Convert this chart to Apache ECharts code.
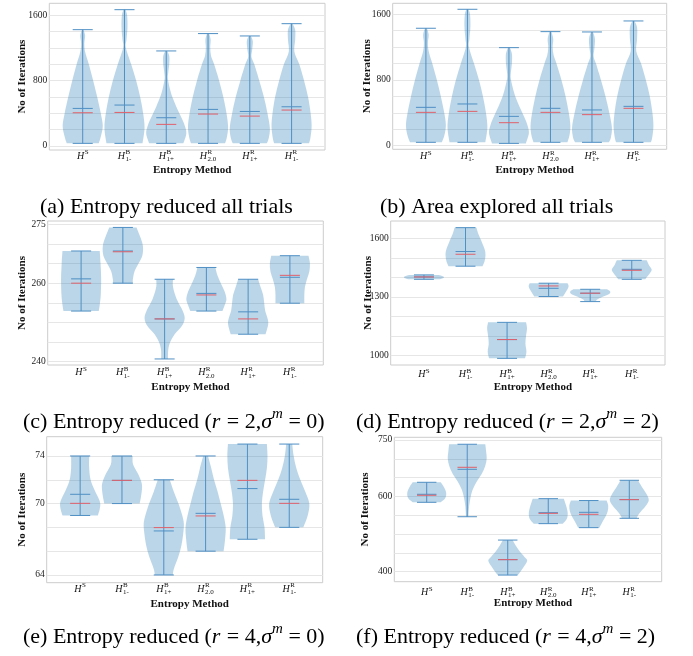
<!DOCTYPE html>
<html><head><meta charset="utf-8">
<script src="https://cdn.jsdelivr.net/npm/echarts@6/dist/echarts.min.js"></script>
<style>html,body{margin:0;padding:0;background:#fff}#c{width:693px;height:656px}</style>
</head><body><div id="c"></div>
<script>
// ---------------- DATA ----------------
// category labels: [base, superscript, subscript]
const categories = [['H','S',''],['H','B','1-'],['H','B','1+'],['H','R','2.0'],['H','R','1+'],['H','R','1-']];

// violin profiles: [value, relative half-width] from top (max) to bottom (min)
const a_profiles = [
 [[1421,0.04],[1350,0.12],[1250,0.08],[1150,0.12],[1000,0.3],[800,0.52],[600,0.72],[400,0.9],[250,1.0],[130,0.92],[32,0.8]],
 [[1665,0.05],[1600,0.13],[1450,0.15],[1300,0.1],[1200,0.07],[1000,0.33],[800,0.58],[600,0.78],[400,0.93],[220,1.0],[32,0.9]],
 [[1161,0.05],[1100,0.15],[1000,0.15],[900,0.1],[820,0.08],[700,0.18],[600,0.3],[480,0.5],[360,0.73],[250,0.92],[150,1.0],[32,0.85]],
 [[1373,0.05],[1300,0.13],[1200,0.11],[1100,0.15],[1000,0.3],[800,0.55],[600,0.76],[400,0.92],[240,1.0],[120,0.95],[32,0.85]],
 [[1344,0.05],[1280,0.15],[1180,0.12],[1090,0.08],[1000,0.22],[800,0.47],[600,0.7],[400,0.88],[220,1.0],[100,0.95],[32,0.85]],
 [[1494,0.05],[1420,0.18],[1300,0.18],[1150,0.14],[1000,0.38],[800,0.62],[600,0.82],[400,0.95],[240,1.0],[100,0.94],[32,0.87]]
];
const a_means = [459, 500, 345, 447, 422, 479];
const a_medians = [406, 410, 264, 390, 365, 439];
const a_range = [-49, 1743];
const a_gridTicks = [0,200,400,600,800,1000,1200,1400,1600];
const a_tickLabels = [0,800,1600];

const b_profiles = [
 [[1430,0.05],[1350,0.14],[1250,0.1],[1150,0.14],[1000,0.32],[800,0.55],[600,0.75],[400,0.92],[250,1.0],[130,0.93],[41,0.8]],
 [[1661,0.05],[1600,0.13],[1450,0.15],[1300,0.1],[1200,0.08],[1000,0.33],[800,0.58],[600,0.78],[400,0.93],[220,1.0],[41,0.9]],
 [[1194,0.05],[1120,0.15],[1000,0.15],[900,0.1],[820,0.09],[700,0.2],[600,0.32],[480,0.52],[360,0.75],[250,0.93],[150,1.0],[28,0.85]],
 [[1389,0.05],[1300,0.14],[1200,0.11],[1100,0.16],[1000,0.3],[800,0.55],[600,0.76],[400,0.92],[240,1.0],[120,0.95],[41,0.85]],
 [[1385,0.05],[1300,0.15],[1180,0.12],[1090,0.08],[1000,0.2],[800,0.45],[600,0.68],[400,0.87],[220,1.0],[100,0.95],[41,0.85]],
 [[1519,0.05],[1440,0.18],[1300,0.18],[1150,0.14],[1000,0.38],[800,0.62],[600,0.82],[400,0.95],[240,1.0],[100,0.94],[41,0.87]]
];
const b_means = [467, 508, 357, 455, 435, 479];
const b_medians = [406, 418, 280, 406, 378, 455];
const b_range = [-44, 1734];
const b_gridTicks = [0,200,400,600,800,1000,1200,1400,1600];
const b_tickLabels = [0,800,1600];

const c_profiles = [
 [[268.2,0.93],[265,0.97],[261,1.0],[257,0.98],[254.5,0.93],[252.9,0.88]],
 [[274.2,0.68],[272,0.85],[269.5,1.0],[267,0.97],[265,0.78],[263,0.58],[261,0.5],[260,0.5]],
 [[261,0.42],[259,0.42],[256,0.6],[253,0.9],[251,1.0],[249,0.85],[247,0.5],[245,0.28],[243,0.18],[240.7,0.17]],
 [[264,0.45],[262,0.55],[260,0.72],[258,0.9],[256,1.0],[254.5,0.92],[252.9,0.8]],
 [[261,0.5],[259,0.62],[257,0.75],[255,0.8],[253,0.85],[251,0.97],[249.5,1.0],[247,0.87]],
 [[267,0.93],[265,1.0],[263,0.97],[261,0.85],[259,0.75],[257,0.72],[254.9,0.72]]
];
const c_means = [261.1, 268.2, 250.9, 257.4, 252.7, 261.5];
const c_medians = [260.0, 268.0, 250.9, 257.0, 250.9, 262.0];
const c_range = [239.16, 275.84];
const c_gridTicks = [240,245,250,255,260,265,270,275];
const c_tickLabels = [240,260,275];

const d_profiles = [
 [[1412.5,0.75],[1406,0.95],[1401,1.0],[1396,0.95],[1390,0.75]],
 [[1654,0.55],[1620,0.65],[1580,0.82],[1540,0.97],[1510,1.0],[1480,0.95],[1457,0.85]],
 [[1170,0.95],[1140,1.0],[1100,0.95],[1060,0.92],[1020,0.97],[986,0.9]],
 [[1370,0.95],[1355,1.0],[1335,0.92],[1315,0.8],[1302,0.72]],
 [[1339,0.85],[1328,1.0],[1315,0.95],[1300,0.6],[1287,0.35],[1276,0.28]],
 [[1487,0.75],[1465,0.85],[1440,1.0],[1420,0.9],[1400,0.75],[1390,0.68]]
];
const d_means = [1402, 1532, 1082, 1344, 1319, 1441];
const d_medians = [1402, 1518, 1082, 1356, 1319, 1436];
const d_range = [952, 1688];
const d_gridTicks = [1000,1100,1200,1300,1400,1500,1600];
const d_tickLabels = [1000,1300,1600];

const e_profiles = [
 [[74,0.45],[73,0.45],[72,0.52],[71.2,0.7],[70.5,0.9],[70,1.0],[69.5,0.97],[69,0.88]],
 [[74,0.53],[73.3,0.55],[72.5,0.8],[71.8,0.97],[71.3,1.0],[70.6,0.95],[70,0.88]],
 [[72,0.3],[71,0.5],[70,0.73],[69,0.92],[68.3,1.0],[67.5,0.97],[66.5,0.88],[65.5,0.72],[64.5,0.5],[64,0.45]],
 [[74,0.12],[73,0.28],[72,0.42],[71,0.6],[70,0.75],[69,0.9],[68,1.0],[67,0.97],[66,0.9]],
 [[75,0.97],[74,1.0],[73,0.97],[72,0.88],[71,0.78],[70,0.72],[69,0.75],[68,0.85],[67,0.88]],
 [[75,0.15],[74,0.22],[73,0.35],[72,0.55],[71,0.8],[70,1.0],[69,0.92],[68,0.7]]
];
const e_means = [70.78, 71.95, 67.7, 69.18, 71.26, 70.36];
const e_medians = [70.02, 71.95, 67.98, 68.96, 71.95, 70.02];
const e_range = [63.35, 75.62];
const e_gridTicks = [64,66,68,70,72,74];
const e_tickLabels = [64,70,74];

const f_profiles = [
 [[637.5,0.72],[625,0.88],[610,1.0],[595,0.95],[584.3,0.72]],
 [[738.5,0.93],[720,0.97],[700,1.0],[680,0.92],[660,0.75],[640,0.5],[620,0.3],[600,0.18],[575,0.1],[546,0.06]],
 [[484,0.25],[470,0.4],[455,0.6],[440,0.85],[430,1.0],[415,0.85],[400,0.65],[391,0.52]],
 [[594,0.8],[575,0.92],[556,1.0],[540,0.95],[527.6,0.75]],
 [[589,0.92],[575,1.0],[560,0.97],[545,0.85],[530,0.68],[517,0.55]],
 [[642.8,0.45],[625,0.65],[605,0.9],[590,1.0],[575,0.85],[560,0.6],[550,0.45],[541.8,0.38]]
];
const f_means = [605.6, 672, 432, 556.8, 557.7, 591.4];
const f_medians = [603, 677.3, 432, 555, 552.4, 591.4];
const f_range = [373.4, 757];
const f_gridTicks = [400,450,500,550,600,650,700,750];
const f_tickLabels = [400,600,750];

const yTitle = 'No of Iterations';
const xTitle = 'Entropy Method';
// caption runs: [text, style]  n=normal, i=italic, s=italic superscript
const captionA = [['(a) Entropy reduced all trials','n']];
const captionB = [['(b) Area explored all trials','n']];
const captionC = [['(c) Entropy reduced (','n'],['r','i'],[' = 2,','n'],['\u03c3','i'],['m','s'],[' = 0)','n']];
const captionD = [['(d) Entropy reduced (','n'],['r','i'],[' = 2,','n'],['\u03c3','i'],['m','s'],[' = 2)','n']];
const captionE = [['(e) Entropy reduced (','n'],['r','i'],[' = 4,','n'],['\u03c3','i'],['m','s'],[' = 0)','n']];
const captionF = [['(f) Entropy reduced (','n'],['r','i'],[' = 4,','n'],['\u03c3','i'],['m','s'],[' = 2)','n']];

// ---------------- LAYOUT ----------------
const panels = [
 {prof:a_profiles, means:a_means, medians:a_medians, range:a_range, ticks:a_gridTicks, labels:a_tickLabels, cap:captionA,
  box:[49.3,3.3,275.7,146.7], yNameX:22, labDy:6, xNameDy:20, capX:40, capY:207},
 {prof:b_profiles, means:b_means, medians:b_medians, range:b_range, ticks:b_gridTicks, labels:b_tickLabels, cap:captionB,
  box:[392.7,3.3,274,146], yNameX:366.7, labDy:7, xNameDy:21, capX:380, capY:207},
 {prof:c_profiles, means:c_means, medians:c_medians, range:c_range, ticks:c_gridTicks, labels:c_tickLabels, cap:captionC,
  box:[47.7,221,275.6,144], yNameX:21.7, labDy:7.7, xNameDy:22.5, capX:23, capY:422},
 {prof:d_profiles, means:d_means, medians:d_medians, range:d_range, ticks:d_gridTicks, labels:d_tickLabels, cap:captionD,
  box:[390.7,221,274.3,144], yNameX:368, labDy:9.3, xNameDy:21.7, capX:356, capY:422},
 {prof:e_profiles, means:e_means, medians:e_medians, range:e_range, ticks:e_gridTicks, labels:e_tickLabels, cap:captionE,
  box:[46.7,436.7,276,146], yNameX:21.7, labDy:6.3, xNameDy:21.3, capX:23, capY:637},
 {prof:f_profiles, means:f_means, medians:f_medians, range:f_range, ticks:f_gridTicks, labels:f_tickLabels, cap:captionF,
  box:[394.3,437.3,267.4,144.4], yNameX:365, labDy:10.6, xNameDy:21.6, capX:356, capY:637}
];

const HALF = 0.48, CAP = 0.24;
const FILL = 'rgba(31,119,180,0.3)';
const BLUE = '#4f8fc4';
const RED = '#e0606a';
const SERIF = '"Liberation Serif", "Times New Roman", serif';

function cr(pts) {
  let d = '';
  const n = pts.length;
  for (let k = 0; k < n - 1; k++) {
    const p0 = pts[Math.max(k - 1, 0)], p1 = pts[k], p2 = pts[k + 1], p3 = pts[Math.min(k + 2, n - 1)];
    const c1 = [p1[0] + (p2[0] - p0[0]) / 6, p1[1] + (p2[1] - p0[1]) / 6];
    const c2 = [p2[0] - (p3[0] - p1[0]) / 6, p2[1] - (p3[1] - p1[1]) / 6];
    d += ' C' + c1[0] + ',' + c1[1] + ' ' + c2[0] + ',' + c2[1] + ' ' + p2[0] + ',' + p2[1];
  }
  return d;
}

function makeSeries(p, P) {
  return {
    type: 'custom', xAxisIndex: p, yAxisIndex: p, silent: true, clip: false,
    data: P.prof.map((pr, i) => [i + 1, pr[pr.length - 1][0], pr[0][0]]),
    encode: {x: 0, y: [1, 2]},
    renderItem: function (params, api) {
      const i = params.dataIndex;
      const pos = api.value(0);
      const pr = P.prof[i];
      const R = pr.map(q => api.coord([pos + q[1] * HALF, q[0]]));
      const L = pr.map(q => api.coord([pos - q[1] * HALF, q[0]])).reverse();
      const d = 'M' + R[0][0] + ',' + R[0][1] + cr(R) + ' L' + L[0][0] + ',' + L[0][1] + cr(L) + ' Z';
      const top = api.coord([pos, pr[0][0]]);
      const bot = api.coord([pos, pr[pr.length - 1][0]]);
      const hx = api.coord([pos + CAP, pr[0][0]])[0] - top[0];
      const hl = (v, color) => {
        const c = api.coord([pos, v]);
        return {type: 'line', shape: {x1: c[0] - hx, y1: c[1], x2: c[0] + hx, y2: c[1]}, style: {stroke: color, lineWidth: 1}};
      };
      return {type: 'group', children: [
        {type: 'path', shape: {pathData: d}, style: {fill: FILL, stroke: null}},
        {type: 'line', shape: {x1: top[0], y1: top[1], x2: bot[0], y2: bot[1]}, style: {stroke: BLUE, lineWidth: 1}},
        hl(pr[0][0], BLUE), hl(pr[pr.length - 1][0], BLUE),
        hl(P.means[i], BLUE), hl(P.medians[i], RED)
      ]};
    }
  };
}

const chart = echarts.init(document.getElementById('c'), null, {renderer: 'canvas'});
const option = {
  animation: false,
  backgroundColor: '#ffffff',
  grid: panels.map(P => ({left: P.box[0], top: P.box[1], width: P.box[2], height: P.box[3],
    show: true, borderColor: '#cccccc', borderWidth: 1, backgroundColor: 'transparent', containLabel: false})),
  xAxis: panels.map((P, p) => ({type: 'value', gridIndex: p, min: 0.2, max: 6.8,
    axisLine: {show: false}, axisTick: {show: false}, axisLabel: {show: false}, splitLine: {show: false}})),
  yAxis: panels.map((P, p) => ({type: 'value', gridIndex: p, min: P.range[0], max: P.range[1],
    axisLine: {show: false},
    axisTick: {show: false, customValues: P.ticks},
    splitLine: {show: true, lineStyle: {color: '#e6e6e6', width: 1}},
    axisLabel: {customValues: P.labels, fontSize: 9.5, fontFamily: SERIF, color: '#222', margin: 2,
      formatter: v => String(v)}})),
  series: panels.map((P, p) => makeSeries(p, P))
};
chart.setOption(option);

// text helpers
const mctx = document.createElement('canvas').getContext('2d');
function tw(t, font) { mctx.font = font; return mctx.measureText(t).width; }
function txt(t, x, y, font, extra) {
  return Object.assign({type: 'text', silent: true, x: x, y: y,
    style: {text: t, font: font, fill: '#111', textAlign: 'left', align: 'left', textVerticalAlign: 'middle', verticalAlign: 'middle'}}, extra || {});
}

const graphics = [];
const fH = 'italic 10px ' + SERIF, fS = '7px ' + SERIF;
const fBold = 'bold 11px ' + SERIF;
const capFonts = {n: '22px ' + SERIF, i: 'italic 22px ' + SERIF, s: 'italic 15px ' + SERIF};
panels.forEach((P, p) => {
  const bottom = P.box[1] + P.box[3];
  // category labels
  categories.forEach((c, i) => {
    const cx = chart.convertToPixel({xAxisIndex: p}, i + 1);
    const wH = tw(c[0], fH);
    const wS = Math.max(tw(c[1], fS), c[2] ? tw(c[2], fS) : 0);
    const x0 = cx - (wH + wS + 0.5) / 2;
    const y = bottom + P.labDy;
    graphics.push(txt(c[0], x0, y, fH));
    graphics.push(txt(c[1], x0 + wH + 0.5, y - 3.6, fS));
    if (c[2]) graphics.push(txt(c[2], x0 + wH + 0.5, y + 3.2, fS));
  });
  // axis titles
  const xc = P.box[0] + P.box[2] / 2 + 5;
  graphics.push(txt(xTitle, xc - tw(xTitle, fBold) / 2, bottom + P.xNameDy, fBold));
  const yc = P.box[1] + P.box[3] / 2;
  graphics.push({type: 'text', silent: true, x: P.yNameX, y: yc, rotation: Math.PI / 2,
    style: {text: yTitle, font: fBold, fill: '#111', textAlign: 'center', align: 'center', textVerticalAlign: 'middle', verticalAlign: 'middle'}});
  // caption
  let x = P.capX;
  P.cap.forEach(r => {
    const f = capFonts[r[1]];
    const dy = r[1] === 's' ? -8 : 0;
    graphics.push(txt(r[0], x, P.capY + dy, f, {style: {text: r[0], font: f, fill: '#000', textAlign: 'left', align: 'left', textVerticalAlign: 'middle', verticalAlign: 'middle'}}));
    x += tw(r[0], f) + (r[1] === 'i' && r[0] === 'r' ? 1 : 0);
  });
});
chart.setOption({graphic: {elements: graphics}});
</script>
</body></html>
